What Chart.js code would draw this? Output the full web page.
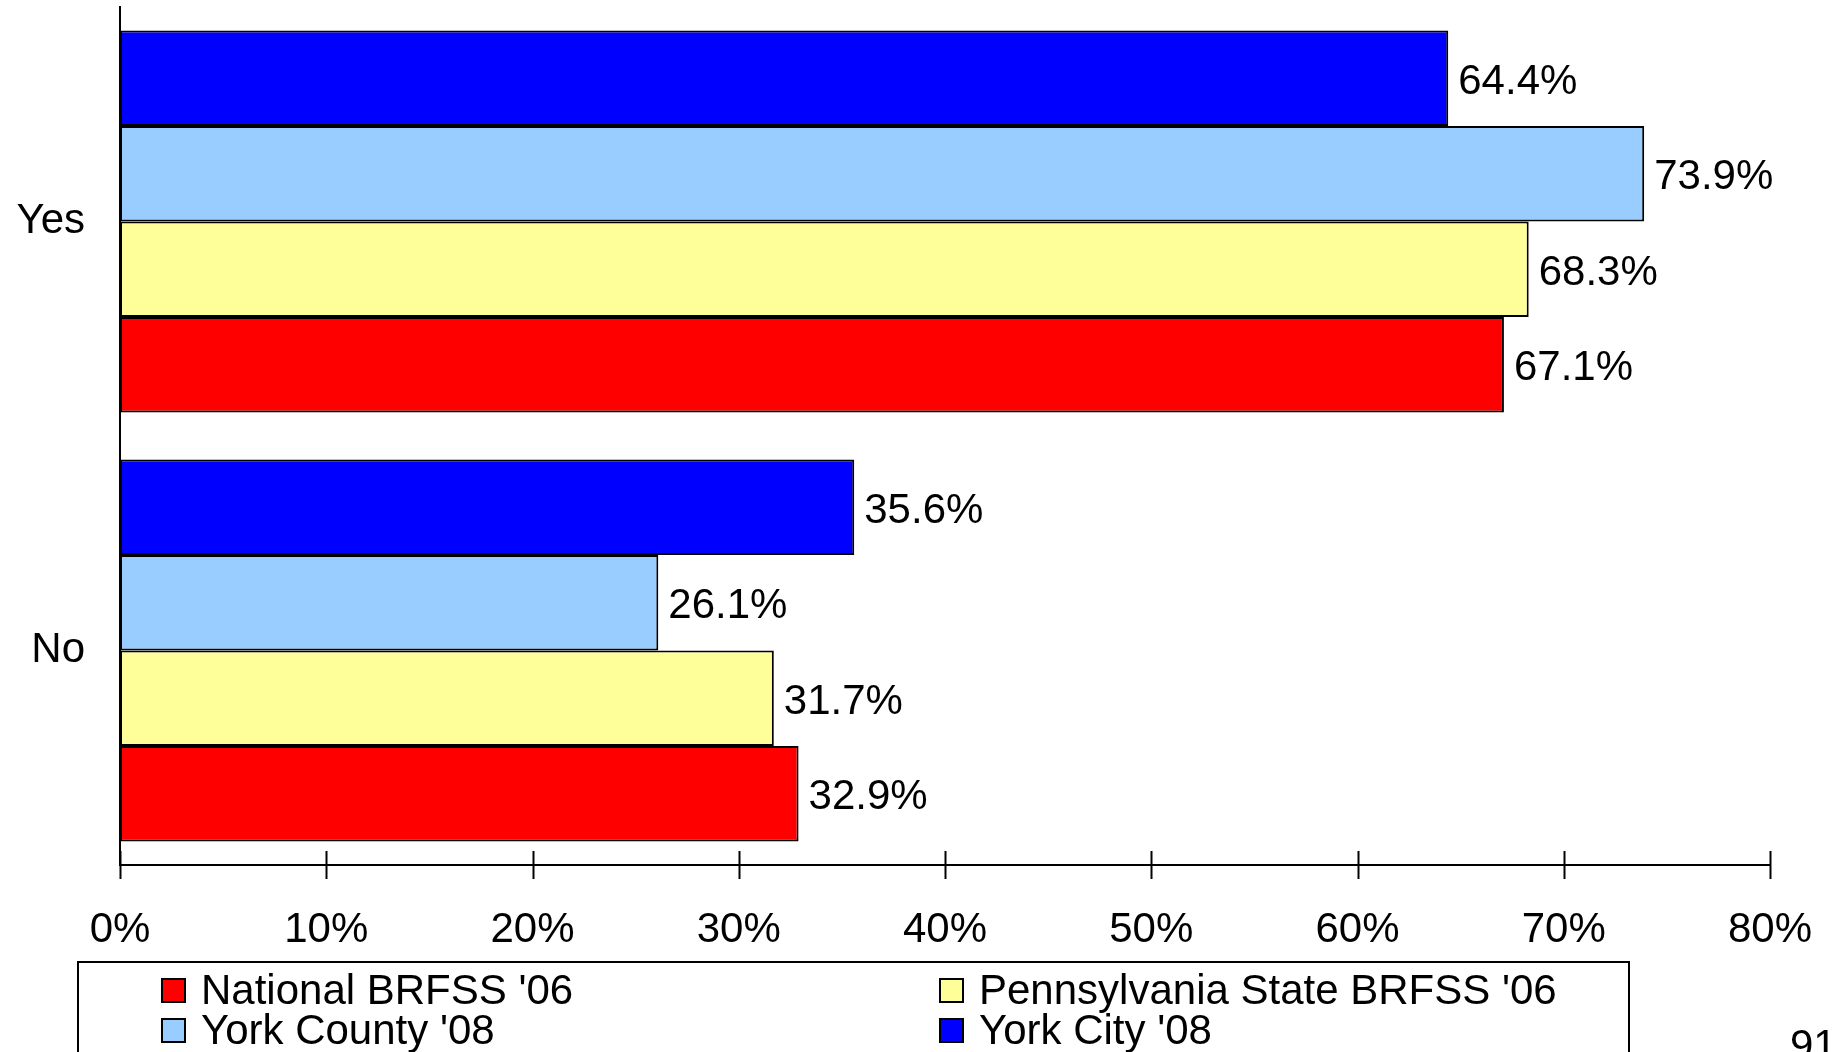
<!DOCTYPE html>
<html>
<head>
<meta charset="utf-8">
<script src="https://cdn.jsdelivr.net/npm/chart.js@4/dist/chart.umd.min.js"></script>
<style>
  body { margin: 0; background: #fff; overflow: hidden; font-family: "Liberation Sans", Arial, sans-serif; }
  #wrap { position: relative; width: 1835px; height: 1052px; overflow: hidden; }
  #legend { position: absolute; left: 77px; top: 961px; width: 1553px; height: 140px; border: 2px solid #000; box-sizing: border-box; }
  .item { position: absolute; height: 42px; display: flex; align-items: center; font-size: 42px; line-height: 42px; white-space: nowrap; }
  .box { width: 25px; height: 25px; border: 2px solid #000; box-sizing: border-box; margin-right: 15px; }
  #page { position: absolute; left: 1790px; top: 1024px; font-size: 42px; line-height: 42px; }
</style>
</head>
<body>
<div id="wrap">
  <canvas id="chart" width="1835" height="1052"></canvas>
  <div id="legend"></div>
  <div id="page">91</div>
</div>
<script>
// Données
const categories = ["Yes", "No"];
const seriesNames = ["York City '08", "York County '08", "Pennsylvania State BRFSS '06", "National BRFSS '06"];
const seriesColors = ["#0000FF", "#99CCFF", "#FFFF99", "#FF0000"];
const yorkCity = [64.4, 35.6];
const yorkCounty = [73.9, 26.1];
const pennsylvania = [68.3, 31.7];
const national = [67.1, 32.9];
const xMin = 0;
const xMax = 80;
const xStep = 10;

const seriesValues = [yorkCity, yorkCounty, pennsylvania, national];
const fontFamily = "'Liberation Sans', Arial, sans-serif";

// Étiquettes de valeur au bout des barres
const valueLabels = {
  id: "valueLabels",
  afterDatasetsDraw(chart) {
    const ctx = chart.ctx;
    ctx.save();
    ctx.font = "42px " + fontFamily;
    ctx.fillStyle = "#000";
    ctx.textAlign = "left";
    ctx.textBaseline = "middle";
    chart.data.datasets.forEach((ds, i) => {
      chart.getDatasetMeta(i).data.forEach((bar, j) => {
        ctx.fillText(ds.data[j].toFixed(1) + "%", bar.x + 10, bar.y + 4);
      });
    });
    ctx.restore();
  },
};

// Graduations qui traversent l'axe des x
const crossTicks = {
  id: "crossTicks",
  afterDraw(chart) {
    const scale = chart.scales.x;
    const ctx = chart.ctx;
    const y = chart.chartArea.bottom;
    ctx.save();
    ctx.strokeStyle = "#000";
    ctx.lineWidth = 2;
    scale.ticks.forEach((t, i) => {
      const x = Math.round(scale.getPixelForTick(i)) + 0.5;
      ctx.beginPath();
      ctx.moveTo(x, y - 14);
      ctx.lineTo(x, y + 14);
      ctx.stroke();
    });
    ctx.restore();
  },
};

const datasets = seriesNames.map((name, i) => ({
  label: name,
  data: seriesValues[i],
  backgroundColor: seriesColors[i],
  borderColor: "#000",
  borderWidth: 2,
  borderSkipped: false,
  categoryPercentage: 0.89,
  barPercentage: 1.0,
}));

new Chart(document.getElementById("chart"), {
  type: "bar",
  data: { labels: categories, datasets: datasets },
  options: {
    indexAxis: "y",
    responsive: false,
    animation: false,
    layout: { padding: { top: 7, right: 65, bottom: 87, left: 0 } },
    plugins: { legend: { display: false }, tooltip: { enabled: false } },
    scales: {
      x: {
        min: xMin,
        max: xMax,
        ticks: {
          stepSize: xStep,
          padding: 32,
          color: "#000",
          font: { size: 42, family: fontFamily },
          callback: (v) => v + "%",
          maxRotation: 0,
        },
        grid: { display: false },
        border: { display: true, color: "#000", width: 2 },
        afterFit: (s) => {
          s.height = 100;
          s.paddingLeft = 0;
          s.paddingRight = 0;
        },
      },
      y: {
        ticks: {
          padding: 27,
          color: "#000",
          font: { size: 42, family: fontFamily },
        },
        grid: { display: false },
        border: { display: true, color: "#000", width: 2 },
        afterFit: (s) => {
          s.width = 120;
          s.paddingTop = 0;
          s.paddingBottom = 0;
        },
      },
    },
  },
  plugins: [valueLabels, crossTicks],
});

// Légende en deux colonnes (ordre inverse des séries)
const legend = document.getElementById("legend");
const colX = [161 - 79, 939 - 79];
const rowTop = [990 - 963 - 21, 1030 - 963 - 21];
seriesNames.slice().reverse().forEach((name, i) => {
  const idx = seriesNames.length - 1 - i;
  const item = document.createElement("div");
  item.className = "item";
  item.style.left = colX[i % 2] + "px";
  item.style.top = rowTop[Math.floor(i / 2)] + "px";
  const box = document.createElement("span");
  box.className = "box";
  box.style.background = seriesColors[idx];
  const txt = document.createElement("span");
  txt.textContent = name;
  item.appendChild(box);
  item.appendChild(txt);
  legend.appendChild(item);
});
</script>
</body>
</html>
